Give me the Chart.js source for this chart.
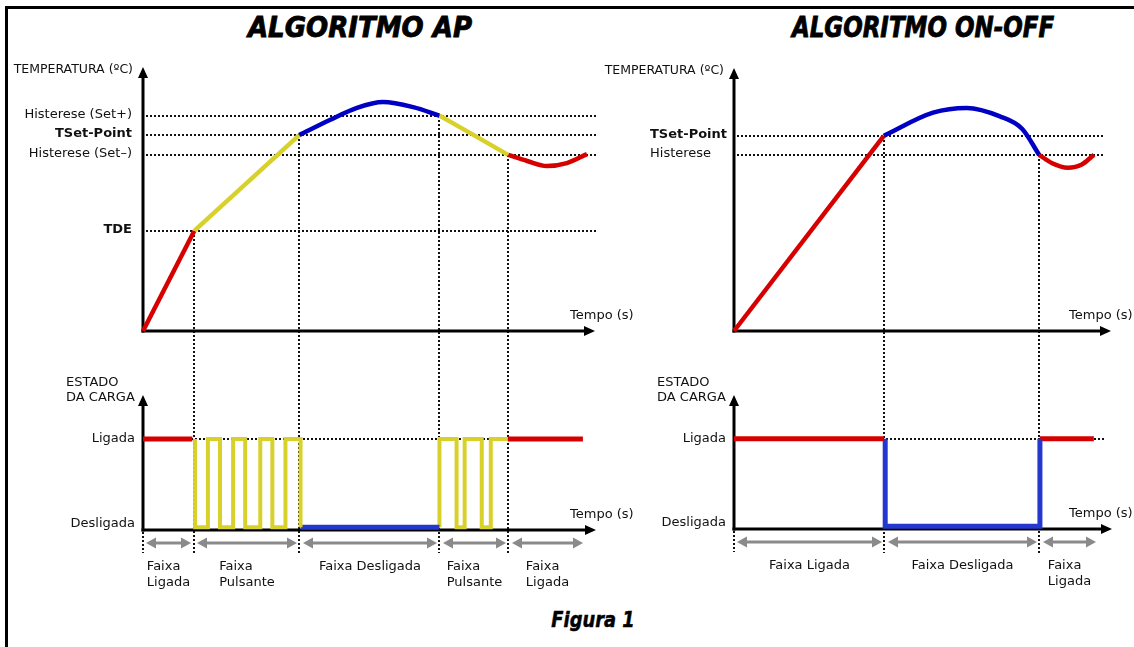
<!DOCTYPE html>
<html>
<head>
<meta charset="utf-8">
<script src="https://cdn.jsdelivr.net/npm/chart.js@4.4.1/dist/chart.umd.min.js"></script>
<style>
  html, body { margin: 0; padding: 0; background: #fff; overflow: hidden; }
  body { width: 1134px; height: 647px; position: relative; }
  .frame { position: absolute; left: 5px; top: 6px; width: 1300px; height: 800px;
           border-left: 3px solid #000; border-top: 3px solid #000; }
  canvas { position: absolute; left: 0; top: 0; }
  .title { position: absolute; top: 11px; line-height: 34px; white-space: nowrap;
           font: italic bold 28px "DejaVu Sans", sans-serif; color: #000;
           -webkit-text-stroke: 0.9px #000; }
  .caption { position: absolute; top: 608px; line-height: 30px; white-space: nowrap;
             font: italic bold 21px "DejaVu Sans", sans-serif; color: #000;
             -webkit-text-stroke: 0.5px #000; }
</style>
</head>
<body>
<div class="frame"></div>
<div class="title" style="left:360px; transform: translateX(-50%) scaleX(0.93)">ALGORITMO AP</div>
<div class="title" style="left:923px; transform: translateX(-50%) scaleX(0.82)">ALGORITMO ON-OFF</div>
<div class="caption" style="left:593px; transform: translateX(-50%) scaleX(0.85)">Figura 1</div>
<canvas id="apTemp" width="1134" height="647"></canvas>
<canvas id="apState" width="1134" height="647"></canvas>
<canvas id="ooTemp" width="1134" height="647"></canvas>
<canvas id="ooState" width="1134" height="647"></canvas>
<script>
// ---------- values ----------
// x = tempo (s), temperature in arbitrary units, state: 1 = Ligada, 0 = Desligada

// ALGORITMO AP
const apLevelNames = ['Histerese (Set+)', 'TSet-Point', 'Histerese (Set–)', 'TDE']
const apLevels = [81.6, 74.2, 66.7, 37.9]
const apLevelBold = [false, true, false, true]
const apEdges = [0, 10.2, 31.1, 59, 72.7, 88]
const apBandNames = [['Faixa', 'Ligada'], ['Faixa', 'Pulsante'], ['Faixa Desligada'], ['Faixa', 'Pulsante'], ['Faixa', 'Ligada']]

const apHeatX = [0, 10.2]
const apHeatY = [0, 37.9]
const apRampX = [10.2, 31.1]
const apRampY = [37.9, 74.2]
const apOverX = [31.1, 37.2, 42.6, 47.8, 53.8, 59]
const apOverY = [74.2, 79.9, 84.5, 86.7, 84.8, 81.6]
const apFallX = [59, 65.7, 72.7]
const apFallY = [81.6, 74.4, 66.7]
const apDipX = [72.7, 76.5, 80.4, 84.4, 88.4]
const apDipY = [66.7, 64.4, 62.5, 63.6, 67]

const apOn1X = [0, 9.8]
const apOn1Y = [1, 1]
const apPulse1X = [10.35, 10.35, 12.9, 15.3, 17.9, 20.3, 23.3, 25.7, 28.3, 31.3]
const apPulse1Y = [1, 0, 1, 0, 1, 0, 1, 0, 1, 0]
const apOffX = [31.3, 58.9]
const apOffY = [0, 0]
const apPulse2X = [58.9, 58.9, 62.3, 63.9, 67.3, 69.1, 72.5]
const apPulse2Y = [0, 1, 0, 1, 0, 1, 1]
const apOn2X = [72.5, 87.4]
const apOn2Y = [1, 1]

// ALGORITMO ON-OFF
const ooLevelNames = ['TSet-Point', 'Histerese']
const ooLevels = [74.2, 67]
const ooLevelBold = [true, false]
const ooEdges = [0, 29.9, 60.7, 72.5]
const ooBandNames = [['Faixa Ligada'], ['Faixa Desligada'], ['Faixa', 'Ligada']]

const ooHeatX = [0, 29.8]
const ooHeatY = [0, 74.2]
const ooOverX = [29.8, 39.6, 46.3, 52.9, 57.3, 60.7]
const ooOverY = [74.2, 83.0, 84.8, 81.6, 76.9, 67]
const ooDipX = [60.7, 63.3, 66.4, 69.2, 71.6]
const ooDipY = [67, 63.8, 62.1, 63.3, 67]

const ooOn1X = [0, 29.8]
const ooOn1Y = [1, 1]
const ooOffX = [30, 30, 60.7]
const ooOffY = [1, 0, 1]
const ooOn2X = [60.7, 71.4]
const ooOn2Y = [1, 1]

// ---------- drawing ----------
const W = 1134, H = 647
const INK = '#111'
const FONT = '"DejaVu Sans", "Liberation Sans", sans-serif'
const FS = 13
const RED = '#d70000'
const YELLOW = '#d9d12b'
const BLUE = '#0000c4'
const BLUE_STATE = '#2438d0'
const GRAY = '#8a8a8a'

const pts = (xs, ys) => xs.map((x, i) => ({ x, y: ys[i] }))

function line(xs, ys, color, width, extra) {
  return Object.assign({
    data: pts(xs, ys),
    borderColor: color,
    borderWidth: width,
    pointRadius: 0,
    fill: false,
    clip: false,
    tension: 0,
    borderJoinStyle: 'miter'
  }, extra || {})
}

function seg(ctx, x1, y1, x2, y2) {
  ctx.beginPath()
  ctx.moveTo(x1, y1)
  ctx.lineTo(x2, y2)
  ctx.stroke()
}

function head(ctx, tx, ty, dx, dy, len, half) {
  ctx.beginPath()
  ctx.moveTo(tx, ty)
  ctx.lineTo(tx - dx * len - dy * half, ty - dy * len + dx * half)
  ctx.lineTo(tx - dx * len + dy * half, ty - dy * len - dx * half)
  ctx.closePath()
  ctx.fill()
}

function label(ctx, s, x, y, align, bold, size) {
  ctx.font = (bold ? 'bold ' : '') + (size || FS) + 'px ' + FONT
  ctx.textAlign = align
  ctx.textBaseline = 'middle'
  ctx.fillStyle = INK
  ctx.fillText(s, x, y)
}

function dotted(ctx) {
  ctx.setLineDash([2, 2])
  ctx.lineWidth = 2
  ctx.strokeStyle = INK
}

const diagram = {
  id: 'diagram',
  beforeDatasetsDraw(chart, args, o) {
    const { ctx, chartArea: a } = chart
    const x = chart.scales.x, y = chart.scales.y
    const px = v => Math.round(x.getPixelForValue(v))
    const py = v => Math.round(y.getPixelForValue(v))
    ctx.save()

    // dotted guides
    dotted(ctx)
    if (o.levels) {
      o.levels.forEach(v => seg(ctx, a.left + 3, py(v), px(o.guideEnd), py(v)))
      o.dropX.forEach((v, i) => seg(ctx, px(v), py(o.dropY[i]), px(v), o.dropBottom))
    }
    if (o.onGuide) {
      seg(ctx, px(o.onGuide[0]), py(1), px(o.onGuide[1]), py(1))
      seg(ctx, a.left, a.bottom + 2, a.left, a.bottom + 23)
    }

    // axes with arrow heads
    ctx.setLineDash([])
    ctx.strokeStyle = '#000'
    ctx.fillStyle = '#000'
    ctx.lineWidth = 3
    seg(ctx, a.left, a.bottom + 1.5, a.left, a.top + 9)
    head(ctx, a.left, a.top, 0, -1, 11, 5)
    seg(ctx, a.left - 1.5, a.bottom, a.right - 9, a.bottom)
    head(ctx, a.right, a.bottom, 1, 0, 11, 5)

    // axis titles
    if (o.levels) {
      label(ctx, 'TEMPERATURA (ºC)', a.left - 10, a.top + 3, 'right', false, 12.5)
      o.levels.forEach((v, i) => label(ctx, o.levelNames[i], a.left - o.labelGap, py(v) - 1, o.labelAlign, o.levelBold[i]))
    } else {
      label(ctx, 'ESTADO', a.left - 77, a.top - 12, 'left')
      label(ctx, 'DA CARGA', a.left - 77, a.top + 3, 'left')
      label(ctx, 'Ligada', a.left - 8, py(1), 'right')
      label(ctx, 'Desligada', a.left - 8, py(0) - 3, 'right')
    }
    label(ctx, 'Tempo (s)', a.right + o.tempoDx, a.bottom - 15, 'left')

    // bands under the state axis
    if (o.edges) {
      const ay = a.bottom + 13
      for (let i = 0; i < o.edges.length - 1; i++) {
        const x1 = px(o.edges[i]) + 3
        const x2 = px(o.edges[i + 1]) - 3
        ctx.strokeStyle = GRAY
        ctx.fillStyle = GRAY
        ctx.lineWidth = 3
        seg(ctx, x1 + 8, ay, x2 - 8, ay)
        head(ctx, x1, ay, -1, 0, 10, 5.5)
        head(ctx, x2, ay, 1, 0, 10, 5.5)

        const lines = o.bands[i]
        ctx.font = FS + 'px ' + FONT
        const wmax = Math.max(...lines.map(s => ctx.measureText(s).width))
        const left = (px(o.edges[i]) + px(o.edges[i + 1])) / 2 - wmax / 2
        lines.forEach((s, k) => label(ctx, s, left, a.bottom + 37 + k * 16, 'left'))
      }
    }
    ctx.restore()
  }
}

function panel(id, area, xMax, yRange, datasets, deco) {
  return new Chart(document.getElementById(id), {
    type: 'line',
    data: { datasets },
    options: {
      responsive: false,
      animation: false,
      events: [],
      layout: { padding: { left: area[0], top: area[1], right: W - area[2], bottom: H - area[3] } },
      scales: {
        x: { type: 'linear', min: 0, max: xMax, display: false },
        y: { type: 'linear', min: yRange[0], max: yRange[1], display: false }
      },
      plugins: { legend: { display: false }, tooltip: { enabled: false }, diagram: deco }
    },
    plugins: [diagram]
  })
}

const TW = 4.5
const smooth = { cubicInterpolationMode: 'monotone' }

panel('apTemp', [143, 67, 595, 331], 90, [0, 100], [
  line(apHeatX, apHeatY, RED, TW),
  line(apRampX, apRampY, YELLOW, TW),
  line(apOverX, apOverY, BLUE, TW, smooth),
  line(apFallX, apFallY, YELLOW, TW, smooth),
  line(apDipX, apDipY, RED, TW, smooth)
], {
  levels: apLevels, levelNames: apLevelNames, levelBold: apLevelBold,
  labelAlign: 'right', labelGap: 11, guideEnd: 90.4,
  dropX: apEdges.slice(1, 5), dropY: [apLevels[3], apLevels[1], apLevels[0], apLevels[2]],
  dropBottom: 553, tempoDx: -25
})

panel('apState', [143, 395, 596, 530], 90, [-0.03, 1.5], [
  line(apOn1X, apOn1Y, RED, 5),
  line(apPulse1X, apPulse1Y, YELLOW, 4, { stepped: 'before' }),
  line(apOffX, apOffY, BLUE_STATE, 5),
  line(apPulse2X, apPulse2Y, YELLOW, 4, { stepped: 'before' }),
  line(apOn2X, apOn2Y, RED, 5)
], {
  onGuide: [0, 72.5], edges: apEdges, bands: apBandNames, tempoDx: -26
})

panel('ooTemp', [734, 68, 1111, 331], 75, [0, 100], [
  line(ooHeatX, ooHeatY, RED, TW),
  line(ooOverX, ooOverY, BLUE, TW, smooth),
  line(ooDipX, ooDipY, RED, TW, smooth)
], {
  levels: ooLevels, levelNames: ooLevelNames, levelBold: ooLevelBold,
  labelAlign: 'left', labelGap: 84, guideEnd: 73.8,
  dropX: ooEdges.slice(1, 3), dropY: ooLevels,
  dropBottom: 553, tempoDx: -42
})

panel('ooState', [734, 395, 1112, 529], 75, [-0.03, 1.5], [
  line(ooOn1X, ooOn1Y, RED, 5),
  line(ooOffX, ooOffY, BLUE_STATE, 5, { stepped: 'before' }),
  line(ooOn2X, ooOn2Y, RED, 5)
], {
  onGuide: [0, 73.4], edges: ooEdges, bands: ooBandNames, tempoDx: -43
})
</script>
</body>
</html>
